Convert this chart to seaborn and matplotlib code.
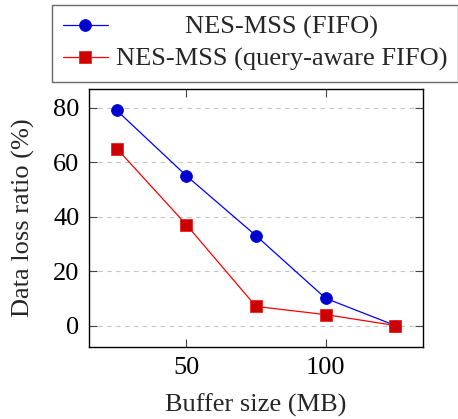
import matplotlib
matplotlib.use("Agg")
import matplotlib.pyplot as plt
import seaborn as sns
import pandas as pd
from matplotlib.offsetbox import DrawingArea, HPacker

buffer_sizes = [25, 50, 75, 100, 125]
fifo = [79, 55, 33, 10, 0]
query_aware = [65, 37, 7, 4, 0]
labels = ["NES-MSS (FIFO)", "NES-MSS (query-aware FIFO)"]
x_ticks = [50, 100]
y_ticks = [0, 20, 40, 60, 80]

sns.set_theme(style="white")
plt.rcParams["font.family"] = ["Liberation Serif", "DejaVu Serif"]
plt.rcParams["mathtext.fontset"] = "stix"
FS = 19

fig = plt.figure(figsize=(4.58, 4.19), dpi=100)
ax = fig.add_axes([89/458, 1-347/419, (423-89)/458, (347-89)/419])

df1 = pd.DataFrame({"x": buffer_sizes, "y": fifo})
df2 = pd.DataFrame({"x": buffer_sizes, "y": query_aware})
sns.lineplot(data=df1, x="x", y="y", ax=ax, color="#0000ff", lw=0.9,
             marker="o", markersize=8.5, markerfacecolor="#0000cc",
             markeredgecolor="#0000ee", markeredgewidth=0.6, label=labels[0], zorder=3)
sns.lineplot(data=df2, x="x", y="y", ax=ax, color="#ff0000", lw=0.9,
             marker="s", markersize=8, markerfacecolor="#cc0000",
             markeredgecolor="#ee2020", markeredgewidth=0.6, label=labels[1], zorder=3)

ax.set_xlim(15, 135)
ax.set_ylim(-7.9, 86.9)
ax.set_xticks(x_ticks)
ax.set_yticks(y_ticks)
ax.tick_params(axis="both", direction="in", length=6, width=0.8, color="#444444",
               labelsize=FS, top=True, right=True, bottom=True, left=True,
               labelcolor="black")
ax.tick_params(axis="x", pad=7)
ax.tick_params(axis="y", pad=7)
ax.yaxis.grid(True, linestyle=(0, (4, 4)), color="#c4c4c4", lw=0.8)
ax.xaxis.grid(False)
for s in ax.spines.values():
    s.set_color("black")
    s.set_linewidth(1.0)
ax.set_xlabel("Buffer size (MB)", fontsize=FS, labelpad=11)
ax.set_ylabel("Data loss ratio (%)", fontsize=FS, labelpad=13)

ax.get_legend().remove()
handles, labs = ax.get_legend_handles_labels()
leg = fig.legend(handles, labs, loc="upper center", bbox_to_anchor=(255/458, 1-5/419),
                 fontsize=FS, frameon=True, fancybox=False, handlelength=1.7,
                 handletextpad=0.3, labelspacing=0.3, borderpad=0.4,
                 borderaxespad=0)
leg.get_frame().set_edgecolor("#444444")
leg.get_frame().set_linewidth(1.0)

# center the first entry's text within the column like pgfplots
fig.canvas.draw()
r = fig.canvas.get_renderer()
t1, t2 = leg.get_texts()
w1 = t1.get_window_extent(r).width
w2 = t2.get_window_extent(r).width
pad_pts = (w2 - w1) / 2 * 72 / fig.dpi
col = leg._legend_handle_box.get_children()[0]
item = col.get_children()[0]
txtbox = item.get_children()[1]
item._children[1] = HPacker(children=[DrawingArea(pad_pts, 1), txtbox], pad=0, sep=0)

fig.savefig("out.png", dpi=100)
